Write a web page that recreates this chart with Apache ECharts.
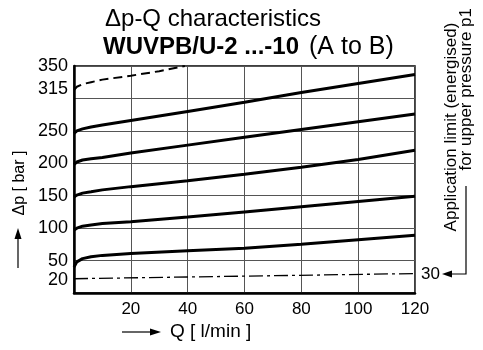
<!DOCTYPE html>
<html>
<head>
<meta charset="utf-8">
<script src="https://cdn.jsdelivr.net/npm/echarts@6/dist/echarts.min.js"></script>
<style>
  html, body { margin: 0; padding: 0; background: #fff; }
  #chart { width: 483px; height: 350px; }
</style>
</head>
<body>
<div id="chart"></div>
<script>
// flow Q [l/min] and pressure drop dp [bar]
const qKnee = [0, 1, 3, 6, 10, 20, 40, 60, 80, 100, 120];
const curve50 = [40, 48, 53, 56, 58, 61, 65, 69, 75, 82, 89];
const curve100 = [97, 100, 103, 105, 107, 110, 117, 125, 133, 141, 149];
const curve150 = [148, 151, 154, 156, 159, 164, 173, 183, 194, 206, 220];
const curve200 = [198, 202, 205, 207, 209, 216, 228, 240, 252, 264, 276];
const curve250 = [246, 250, 253, 256, 259, 266, 280, 294, 309, 323, 337];
const qDashed = [0, 1, 3, 6, 10, 20, 30, 39];
const curve315 = [313, 318, 322, 325, 329, 335, 342, 350];
const qLimit = [0, 120];
const limitLine = [22, 30];

const yTickLabels = [20, 50, 100, 150, 200, 250, 315, 350];
const xTickLabels = [20, 40, 60, 80, 100, 120];

const pairs = (xs, ys) => xs.map((x, i) => [x, ys[i]]);

const chart = echarts.init(document.getElementById('chart'));

const font = 'Liberation Sans, Arial, sans-serif';
const solid = { color: '#000', width: 3 };

function curve(data, lineStyle) {
  return {
    type: 'line',
    data: data,
    showSymbol: false,
    smooth: false,
    lineStyle: lineStyle,
    silent: true,
  };
}

const option = {
  animation: false,
  backgroundColor: '#fff',
  title: [
    {
      text: 'Δp-Q characteristics',
      left: 100,
      top: 2,
      textStyle: { fontFamily: font, fontSize: 24, fontWeight: 'normal', color: '#000' },
    },
    {
      text: '{b|WUVPB/U-2 ...-10}  {n|(A to B)}',
      left: 98,
      top: 30,
      textStyle: {
        rich: {
          b: { fontFamily: font, fontSize: 24, fontWeight: 'bold', color: '#000' },
          n: { fontFamily: font, fontSize: 25, fontWeight: 'normal', color: '#000' },
        },
      },
    },
  ],
  grid: {
    left: 74,
    top: 66,
    right: 68,
    bottom: 57,
    show: true,
    borderColor: '#000',
    borderWidth: 1.5,
  },
  xAxis: {
    type: 'value',
    min: 0,
    max: 120,
    interval: 20,
    axisLine: { show: true, lineStyle: { color: '#000', width: 2.5 } },
    axisTick: { show: false },
    axisLabel: {
      customValues: xTickLabels,
      color: '#000',
      fontFamily: font,
      fontSize: 17,
      margin: 8,
    },
    splitLine: { show: true, lineStyle: { color: '#555', width: 1 } },
  },
  yAxis: {
    type: 'value',
    min: 0,
    max: 350,
    interval: 50,
    axisLine: { show: true, lineStyle: { color: '#000', width: 2.5 } },
    axisTick: { show: false },
    axisLabel: {
      customValues: yTickLabels,
      color: '#000',
      fontFamily: font,
      fontSize: 18,
      margin: 6,
    },
    splitLine: { show: true, lineStyle: { color: '#555', width: 1 } },
  },
  graphic: [
    // y-axis name with arrow
    {
      type: 'text',
      x: 20,
      y: 183,
      rotation: Math.PI / 2,
      style: {
        text: 'Δp [ bar ]',
        fontFamily: font,
        fontSize: 16,
        fill: '#000',
        align: 'center',
        verticalAlign: 'middle',
      },
    },
    { type: 'line', shape: { x1: 18, y1: 268, x2: 18, y2: 238 }, style: { stroke: '#000', lineWidth: 1.2 } },
    { type: 'polygon', shape: { points: [[18, 228], [14.5, 239], [21.5, 239]] }, style: { fill: '#000' } },
    // x-axis name with arrow
    { type: 'line', shape: { x1: 122, y1: 332, x2: 152, y2: 332 }, style: { stroke: '#000', lineWidth: 1.2 } },
    { type: 'polygon', shape: { points: [[161, 332], [150, 328.5], [150, 335.5]] }, style: { fill: '#000' } },
    {
      type: 'text',
      x: 170,
      y: 332,
      style: {
        text: 'Q [ l/min ]',
        fontFamily: font,
        fontSize: 19,
        fill: '#000',
        align: 'left',
        verticalAlign: 'middle',
      },
    },
    // application limit note on the right
    {
      type: 'text',
      x: 451,
      y: 127,
      rotation: Math.PI / 2,
      style: {
        text: 'Application limit (energised)',
        fontFamily: font,
        fontSize: 17,
        fill: '#000',
        align: 'center',
        verticalAlign: 'middle',
      },
    },
    {
      type: 'text',
      x: 466,
      y: 8,
      rotation: Math.PI / 2,
      style: {
        text: 'for upper pressure p1',
        fontFamily: font,
        fontSize: 17,
        fill: '#000',
        align: 'right',
        verticalAlign: 'middle',
      },
    },
    {
      type: 'text',
      x: 421,
      y: 274,
      style: {
        text: '30',
        fontFamily: font,
        fontSize: 17,
        fill: '#000',
        align: 'left',
        verticalAlign: 'middle',
      },
    },
    { type: 'polyline', shape: { points: [[466, 186], [466, 274], [451, 274]] }, style: { stroke: '#000', lineWidth: 1.2, fill: null } },
    { type: 'polygon', shape: { points: [[442, 274], [452, 270.5], [452, 277.5]] }, style: { fill: '#000' } },
  ],
  series: [
    curve(pairs(qKnee, curve50), solid),
    curve(pairs(qKnee, curve100), solid),
    curve(pairs(qKnee, curve150), solid),
    curve(pairs(qKnee, curve200), solid),
    curve(pairs(qKnee, curve250), solid),
    curve(pairs(qDashed, curve315), { color: '#000', width: 2, type: [9, 5] }),
    curve(pairs(qLimit, limitLine), { color: '#000', width: 1.3, type: [14, 4, 3, 4] }),
  ],
};

chart.setOption(option);
window.addEventListener('resize', chart.resize);
</script>
</body>
</html>
